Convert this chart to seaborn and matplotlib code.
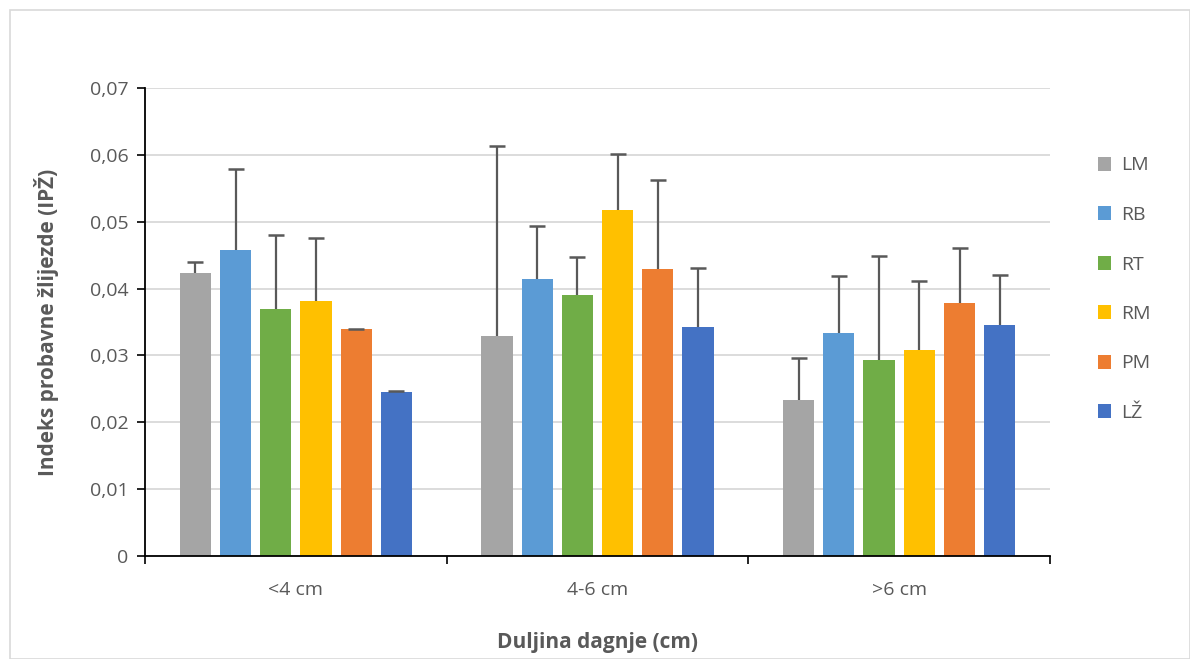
import numpy as np
import pandas as pd
import seaborn as sns
import matplotlib.pyplot as plt
from matplotlib.patches import Rectangle
from matplotlib.ticker import FixedLocator

# === Data ===
groups = ["<4 cm", "4-6 cm", ">6 cm"]
sites = ["LM", "RB", "RT", "RM", "PM", "LŽ"]
means_lt4 = [0.0423, 0.0457, 0.0370, 0.0382, 0.0339, 0.0246]
means_4to6 = [0.0329, 0.0414, 0.0391, 0.0518, 0.0430, 0.0343]
means_gt6 = [0.0234, 0.0333, 0.0293, 0.0308, 0.0379, 0.0346]
sd_lt4 = [0.0016, 0.0122, 0.0110, 0.0094, 0.0001, 0.0001]
sd_4to6 = [0.0284, 0.0080, 0.0056, 0.0084, 0.0133, 0.0088]
sd_gt6 = [0.0062, 0.0086, 0.0155, 0.0103, 0.0081, 0.0075]
y_ticks = [0, 0.01, 0.02, 0.03, 0.04, 0.05, 0.06, 0.07]
y_tick_labels = ["0", "0,01", "0,02", "0,03", "0,04", "0,05", "0,06", "0,07"]
colors = ["#A5A5A5", "#5B9BD5", "#70AD47", "#FFC000", "#ED7D31", "#4472C4"]

rows = []
for g, m, s in zip(groups, [means_lt4, means_4to6, means_gt6], [sd_lt4, sd_4to6, sd_gt6]):
    for site, mv, sv in zip(sites, m, s):
        rows.append({"grupa": g, "lokacija": site, "ipz": mv, "sd": sv})
df = pd.DataFrame(rows)

sns.set_theme(style="white")
plt.rcParams["font.family"] = ["Open Sans", "DejaVu Sans"]
text_col = "#595959"
err_col = "#595959"

fig = plt.figure(figsize=(11.9, 6.59), dpi=100)
ax = fig.add_axes([145 / 1190, 103 / 659, 905 / 1190, 468 / 659])

sns.barplot(data=df, x="grupa", y="ipz", hue="lokacija", order=groups, hue_order=sites,
            palette=colors, errorbar=None, width=0.8, gap=0.225, saturation=1,
            linewidth=0, ax=ax, zorder=3)

# upward-only error bars with a cap at the top only
for container, site in zip(ax.containers, sites):
    sub = df[df["lokacija"] == site].set_index("grupa").loc[groups]
    xs = np.array([p.get_x() + p.get_width() / 2 for p in container.patches])
    tops = sub["ipz"].values + sub["sd"].values
    ax.vlines(xs, sub["ipz"].values, tops, color=err_col, linewidth=1.6, zorder=4)
    ax.plot(xs, tops, linestyle="none", marker="_", markersize=12,
            markeredgewidth=1.8, color=err_col, zorder=4)

ax.set_xlim(-0.5, 2.5)
ax.set_ylim(0, 0.07)
ax.set_yticks(y_ticks)
ax.set_yticklabels(y_tick_labels, color=text_col, fontsize=14)
ax.yaxis.grid(True, color="#D9D9D9", linewidth=1.3, zorder=0)
ax.set_axisbelow(True)

ax.tick_params(axis="x", which="major", length=0, pad=18, labelsize=14, labelcolor=text_col)
ax.xaxis.set_minor_locator(FixedLocator([-0.5, 0.5, 1.5, 2.5]))
ax.tick_params(axis="x", which="minor", length=6, width=1.2, color="black", bottom=True)
ax.tick_params(axis="y", which="major", length=6, width=1.2, color="black", left=True, pad=6)

for side in ["top", "right"]:
    ax.spines[side].set_visible(False)
for side in ["left", "bottom"]:
    ax.spines[side].set_color("black")
    ax.spines[side].set_linewidth(1.3)
    ax.spines[side].set_zorder(5)

ax.set_xlabel("Duljina dagnje (cm)", fontsize=15, fontweight="bold", color=text_col, labelpad=24)
ax.set_ylabel("Indeks probavne žlijezde (IPŽ)", fontsize=15, fontweight="bold", color=text_col, labelpad=22)

leg = ax.legend(loc="upper left", bbox_to_anchor=(1080 / 1190, 1 - 139 / 659),
                bbox_transform=fig.transFigure, frameon=False, fontsize=14,
                handlelength=0.7, handleheight=0.7, handletextpad=0.5, labelspacing=1.62)
for t in leg.get_texts():
    t.set_color(text_col)

# chart frame
fig.patches.append(Rectangle((10 / 1190, 0), 1 - 10 / 1190, 1 - 10 / 659, transform=fig.transFigure,
                             fill=False, edgecolor="#D9D9D9", linewidth=1.2, zorder=0))

fig.savefig("out.png", dpi=100, facecolor="white")
